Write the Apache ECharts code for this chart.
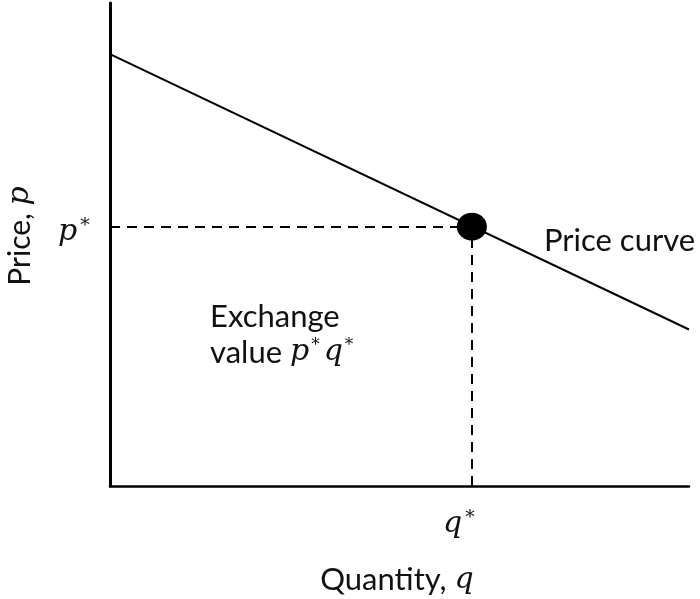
<!DOCTYPE html>
<html>
<head>
<meta charset="utf-8">
<script src="https://cdn.jsdelivr.net/npm/echarts@6/dist/echarts.min.js"></script>
<style>
html, body { margin: 0; padding: 0; background: #fff; }
#main { width: 700px; height: 599px; }
</style>
</head>
<body>
<div id="main"></div>
<script>
// price curve (quantity, price), in axis units 0..100
var curveQ = [0, 100];
var curveP = [89.4, 32.4];
// equilibrium point q*, p*
var qStar = 62.5;
var pStar = 53.7;

var sans = 'Lato';
var serif = 'DejaVu Serif';

function starText(letter, size) {
    return {
        text: '{v|' + letter + '}{s|*}',
        rich: {
            v: { fontFamily: serif, fontStyle: 'italic', fontSize: size, fill: '#111' },
            s: { fontFamily: serif, fontSize: 19, fill: '#111', verticalAlign: 'top', padding: [0, 0, 0, 3] }
        }
    };
}

var chart = echarts.init(document.getElementById('main'));
chart.setOption({
    animation: false,
    grid: { left: 110, right: 11, top: 3, bottom: 113 },
    xAxis: {
        type: 'value', min: 0, max: 100,
        axisLine: { lineStyle: { color: '#000', width: 2.5 } },
        axisTick: { show: false }, axisLabel: { show: false }, splitLine: { show: false }
    },
    yAxis: {
        type: 'value', min: 0, max: 100,
        axisLine: { show: true, lineStyle: { color: '#000', width: 3 } },
        axisTick: { show: false }, axisLabel: { show: false }, splitLine: { show: false }
    },
    series: [{
        type: 'line',
        data: curveQ.map(function (q, i) { return [q, curveP[i]]; }),
        showSymbol: false,
        lineStyle: { color: '#000', width: 2 }
    }, {
        type: 'scatter',
        data: [[qStar, pStar]],
        symbolSize: [30, 28],
        itemStyle: { color: '#000', opacity: 1 },
        z: 5,
        markLine: {
            silent: true,
            symbol: 'none',
            label: { show: false },
            lineStyle: { color: '#000', width: 2, type: [10, 7], opacity: 1 },
            data: [
                [{ coord: [0, pStar] }, { coord: [qStar, pStar] }],
                [{ coord: [qStar, 0] }, { coord: [qStar, pStar] }]
            ]
        }
    }],
    graphic: [
        { type: 'text', left: 58, top: 217, style: starText('p', 30) },
        { type: 'text', left: 443, top: 509, style: starText('q', 30) },
        {
            type: 'text', x: 20, y: 236, rotation: Math.PI / 2,
            style: {
                text: 'Price, {i|p}', align: 'center', verticalAlign: 'middle',
                fontFamily: sans, fontSize: 30, fill: '#111',
                rich: { i: { fontFamily: serif, fontStyle: 'italic', fontSize: 30, fill: '#111' } }
            }
        },
        {
            type: 'text', x: 397, y: 580,
            style: {
                text: 'Quantity, {i|q}', align: 'center', verticalAlign: 'middle',
                fontFamily: sans, fontSize: 31, fill: '#111',
                rich: { i: { fontFamily: serif, fontStyle: 'italic', fontSize: 30, fill: '#111' } }
            }
        },
        {
            type: 'text', left: 210, top: 301,
            style: { text: 'Exchange', fontFamily: sans, fontSize: 31, fill: '#111' }
        },
        {
            type: 'text', left: 210, top: 337,
            style: {
                text: 'value {i|p}{s|*}{i|q}{s|*}',
                fontFamily: sans, fontSize: 31, fill: '#111',
                rich: {
                    i: { fontFamily: serif, fontStyle: 'italic', fontSize: 30, fill: '#111' },
                    s: { fontFamily: serif, fontSize: 17, fill: '#111', verticalAlign: 'top', padding: [0, 4, 0, 2] }
                }
            }
        },
        {
            type: 'text', left: 544, top: 225,
            style: { text: 'Price curve', fontFamily: sans, fontSize: 31, fill: '#111' }
        }
    ]
});
</script>
</body>
</html>
